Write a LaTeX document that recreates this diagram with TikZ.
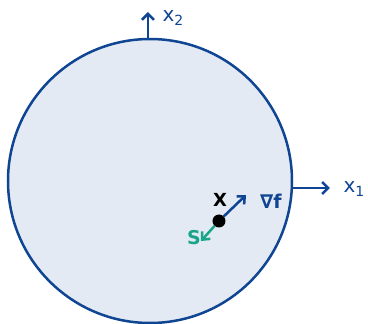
\documentclass[tikz,border=0pt]{standalone}
\usepackage{fontspec}
\setmainfont{DejaVu Sans}
\usetikzlibrary{arrows.meta}
\definecolor{dblue}{HTML}{0F4592}
\definecolor{lblue}{HTML}{E3EAF3}
\definecolor{tgreen}{HTML}{19A58A}
\begin{document}
\begin{tikzpicture}[x=1pt,y=-1pt,
  axis/.style={dblue,line width=2.5pt,-{Straight Barb[length=6pt,width=12pt,line width=2.5pt]}},
  lab/.style={dblue,font=\fontsize{20}{22}\selectfont},
  vec/.style={line width=2.5pt,-{Straight Barb[length=6pt,width=11pt,line width=2.5pt]}}]
\useasboundingbox (0,0) rectangle (368,324);
\node[circle,draw=dblue,fill=lblue,line width=2.5pt,minimum size=284pt,inner sep=0pt] (disk) at (150,181) {};
\coordinate (top) at (148,12);
\coordinate (right) at (330,188);
\draw[axis] (disk.north) ++(-2,0) coordinate (t0) -- (top);
\draw[axis] (292,188) -- (right);
\node[lab,anchor=west] (x2) at (159,18) {x\textsubscript{2}};
\node[lab,anchor=west] (x1) at (340,189) {x\textsubscript{1}};
\node[circle,fill=black,inner sep=0pt,minimum size=13pt] (pt) at (219,221) {};
\coordinate (gend) at (246,195);
\coordinate (send) at (201,241);
\draw[vec,dblue] (pt) -- (gend);
\draw[vec,tgreen] (pt) -- (send);
\node[font=\fontsize{18}{20}\selectfont\bfseries] (X) at (220,200) {X};
\node[lab,font=\fontsize{19}{21}\selectfont\bfseries] (grad) at (271,201) {∇f};
\node[font=\fontsize{19}{21}\selectfont\bfseries,text=tgreen] (S) at (194,238) {S};
\end{tikzpicture}
\end{document}
